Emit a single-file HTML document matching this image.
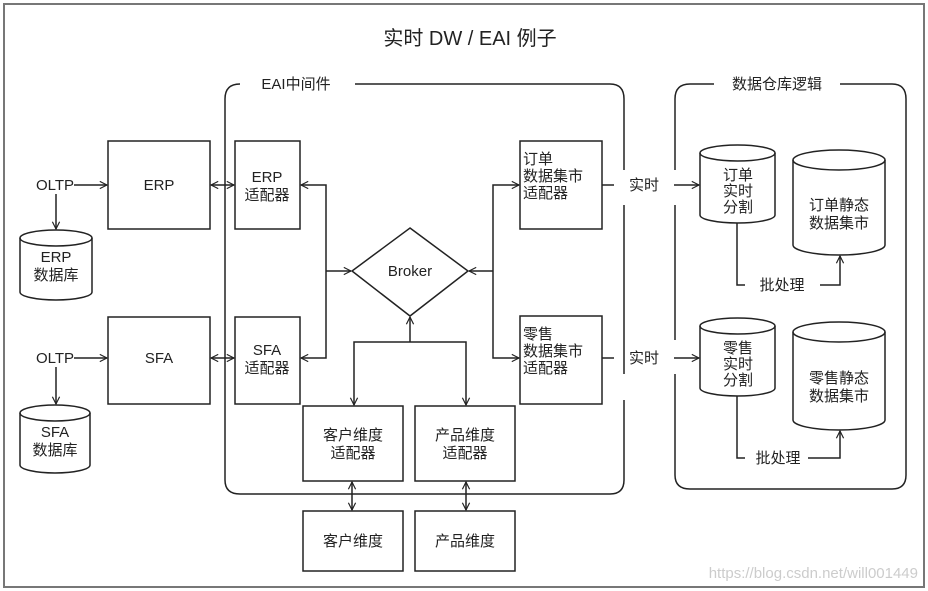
<!DOCTYPE html>
<html><head><meta charset="utf-8"><style>
html,body{margin:0;padding:0;background:#fff;}
svg{display:block;}
text{font-family:"Liberation Sans","Noto Sans CJK SC",sans-serif;fill:#222;}
</style></head><body>
<svg width="928" height="591" viewBox="0 0 928 591" xmlns="http://www.w3.org/2000/svg">
<defs>
<marker id="a" viewBox="0 0 10 10" refX="9" refY="5" markerWidth="9" markerHeight="9" orient="auto-start-reverse" markerUnits="userSpaceOnUse">
<path d="M1,1 L9,5 L1,9" fill="none" stroke="#222" stroke-width="1.3"/></marker>
</defs>
<rect x="4" y="4" width="920" height="583" fill="#fff" stroke="#777" stroke-width="2"/>
<text x="470" y="45" font-size="20" text-anchor="middle">实时 DW / EAI 例子</text>
<g fill="none" stroke="#222" stroke-width="1.5">
<path d="M240,84 Q225,84 225,99 L225,480 Q225,494 240,494 L610,494 Q624,494 624,480 L624,400"/>
<path d="M624,374 L624,205"/>
<path d="M624,170 L624,99 Q624,84 610,84 L355,84"/>
<path d="M714,84 L690,84 Q675,84 675,99 L675,170"/>
<path d="M675,205 L675,340"/>
<path d="M675,374 L675,475 Q675,489 690,489 L892,489 Q906,489 906,475 L906,99 Q906,84 892,84 L840,84"/>
<rect x="108" y="141" width="102" height="88"/>
<rect x="235" y="141" width="65" height="88"/>
<rect x="108" y="317" width="102" height="87"/>
<rect x="235" y="317" width="65" height="87"/>
<rect x="520" y="141" width="82" height="88"/>
<rect x="520" y="316" width="82" height="88"/>
<rect x="303" y="406" width="100" height="75"/>
<rect x="415" y="406" width="100" height="75"/>
<rect x="303" y="511" width="100" height="60"/>
<rect x="415" y="511" width="100" height="60"/>
<path d="M410,228 L468,271 L410,316 L352,271 Z"/>
<path d="M20,238 L20,292 A36,8 0 0 0 92,292 L92,238"/><ellipse cx="56" cy="238" rx="36" ry="8"/>
<path d="M20,413 L20,465 A35,8 0 0 0 90,465 L90,413"/><ellipse cx="55" cy="413" rx="35" ry="8"/>
<path d="M700,153 L700,215 A37.5,8 0 0 0 775,215 L775,153"/><ellipse cx="737.5" cy="153" rx="37.5" ry="8"/>
<path d="M793,160 L793,245 A46,10 0 0 0 885,245 L885,160"/><ellipse cx="839" cy="160" rx="46" ry="10"/>
<path d="M700,326 L700,388 A37.5,8 0 0 0 775,388 L775,326"/><ellipse cx="737.5" cy="326" rx="37.5" ry="8"/>
<path d="M793,332 L793,420 A46,10 0 0 0 885,420 L885,332"/><ellipse cx="839" cy="332" rx="46" ry="10"/>
<path d="M74,185 L107,185" marker-end="url(#a)"/>
<path d="M56,194 L56,229" marker-end="url(#a)"/>
<path d="M74,358 L107,358" marker-end="url(#a)"/>
<path d="M56,367 L56,404" marker-end="url(#a)"/>
<path d="M211,185 L234,185" marker-start="url(#a)" marker-end="url(#a)"/>
<path d="M211,358 L234,358" marker-start="url(#a)" marker-end="url(#a)"/>
<path d="M301,185 L326,185 L326,358 L301,358" marker-start="url(#a)" marker-end="url(#a)"/>
<path d="M326,271 L351,271" marker-end="url(#a)"/>
<path d="M519,185 L493,185 L493,358 L519,358" marker-start="url(#a)" marker-end="url(#a)"/>
<path d="M493,271 L469,271" marker-end="url(#a)"/>
<path d="M410,342 L410,317" marker-end="url(#a)"/>
<path d="M354,405 L354,342 L466,342 L466,405" marker-start="url(#a)" marker-end="url(#a)"/>
<path d="M352,482 L352,510" marker-start="url(#a)" marker-end="url(#a)"/>
<path d="M466,482 L466,510" marker-start="url(#a)" marker-end="url(#a)"/>
<path d="M602,185 L614,185"/><path d="M674,185 L699,185" marker-end="url(#a)"/>
<path d="M602,358 L614,358"/><path d="M674,358 L699,358" marker-end="url(#a)"/>
<path d="M737,223 L737,285 L745,285"/>
<path d="M820,285 L840,285 L840,256" marker-end="url(#a)"/>
<path d="M737,396 L737,458 L745,458"/>
<path d="M808,458 L840,458 L840,431" marker-end="url(#a)"/>
</g>
<g font-size="15">
<text x="296" y="89" text-anchor="middle">EAI中间件</text>
<text x="777" y="89" text-anchor="middle">数据仓库逻辑</text>
<text x="55" y="190" text-anchor="middle">OLTP</text>
<text x="55" y="363" text-anchor="middle">OLTP</text>
<text x="159" y="190" text-anchor="middle">ERP</text>
<text x="159" y="363" text-anchor="middle">SFA</text>
<text x="267" y="182" text-anchor="middle">ERP</text>
<text x="267" y="200" text-anchor="middle">适配器</text>
<text x="267" y="355" text-anchor="middle">SFA</text>
<text x="267" y="373" text-anchor="middle">适配器</text>
<text x="56" y="262" text-anchor="middle">ERP</text>
<text x="56" y="280" text-anchor="middle">数据库</text>
<text x="55" y="437" text-anchor="middle">SFA</text>
<text x="55" y="455" text-anchor="middle">数据库</text>
<text x="410" y="276" text-anchor="middle">Broker</text>
<text x="523" y="164">订单</text>
<text x="523" y="181">数据集市</text>
<text x="523" y="198">适配器</text>
<text x="523" y="339">零售</text>
<text x="523" y="356">数据集市</text>
<text x="523" y="373">适配器</text>
<text x="353" y="440" text-anchor="middle">客户维度</text>
<text x="353" y="458" text-anchor="middle">适配器</text>
<text x="465" y="440" text-anchor="middle">产品维度</text>
<text x="465" y="458" text-anchor="middle">适配器</text>
<text x="353" y="546" text-anchor="middle">客户维度</text>
<text x="465" y="546" text-anchor="middle">产品维度</text>
<text x="644" y="190" text-anchor="middle">实时</text>
<text x="644" y="363" text-anchor="middle">实时</text>
<text x="738" y="180" text-anchor="middle">订单</text>
<text x="738" y="196" text-anchor="middle">实时</text>
<text x="738" y="212" text-anchor="middle">分割</text>
<text x="738" y="353" text-anchor="middle">零售</text>
<text x="738" y="369" text-anchor="middle">实时</text>
<text x="738" y="385" text-anchor="middle">分割</text>
<text x="839" y="210" text-anchor="middle">订单静态</text>
<text x="839" y="228" text-anchor="middle">数据集市</text>
<text x="839" y="383" text-anchor="middle">零售静态</text>
<text x="839" y="401" text-anchor="middle">数据集市</text>
<text x="782" y="290" text-anchor="middle">批处理</text>
<text x="778" y="463" text-anchor="middle">批处理</text>
</g>
<text x="918" y="578" font-size="15" text-anchor="end" style="fill:#ccc">https://blog.csdn.net/will001449</text>
</svg>
</body></html>
